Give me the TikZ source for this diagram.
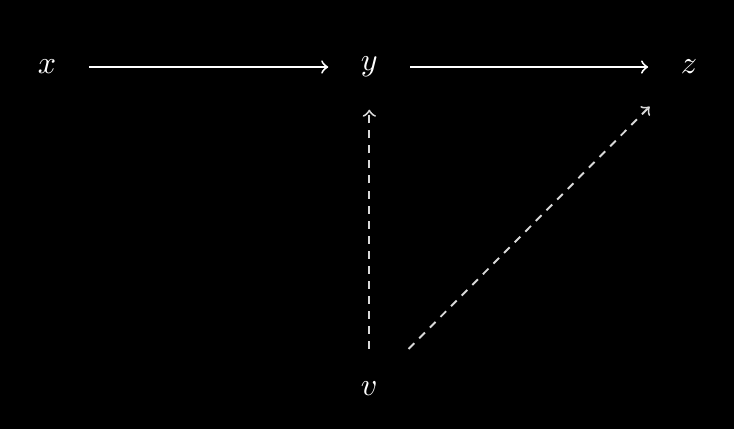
\documentclass[tikz,border=0pt]{standalone}
\begin{document}
\begin{tikzpicture}
  [auto=left,every node/.style={inner sep=10pt,text=white},
   lnk/.style={line width=0.6pt,white},
   dlnk/.style={line width=0.6pt,white!85!black,dash pattern=on 2.5pt off 2.2pt}]
\fill[black] (-0.516,-3.976) rectangle (7.545,0.736);
\useasboundingbox (-0.516,-3.976) rectangle (7.545,0.736);
\node (x) at (0,0) {$x$};
  \node (y) at (3.54,0) {$y$};
  \node (z) at (7.05,0) {$z$};
  \node (v) at (3.54,-3.53) {$v$};

 \path [lnk] (x) edge [->] (y);
 \path [lnk] (y) edge [->] (z);

 \path [dlnk] (v) edge [->] (y);
 \path [dlnk] (v) edge [->] (z);
\end{tikzpicture}
\end{document}
